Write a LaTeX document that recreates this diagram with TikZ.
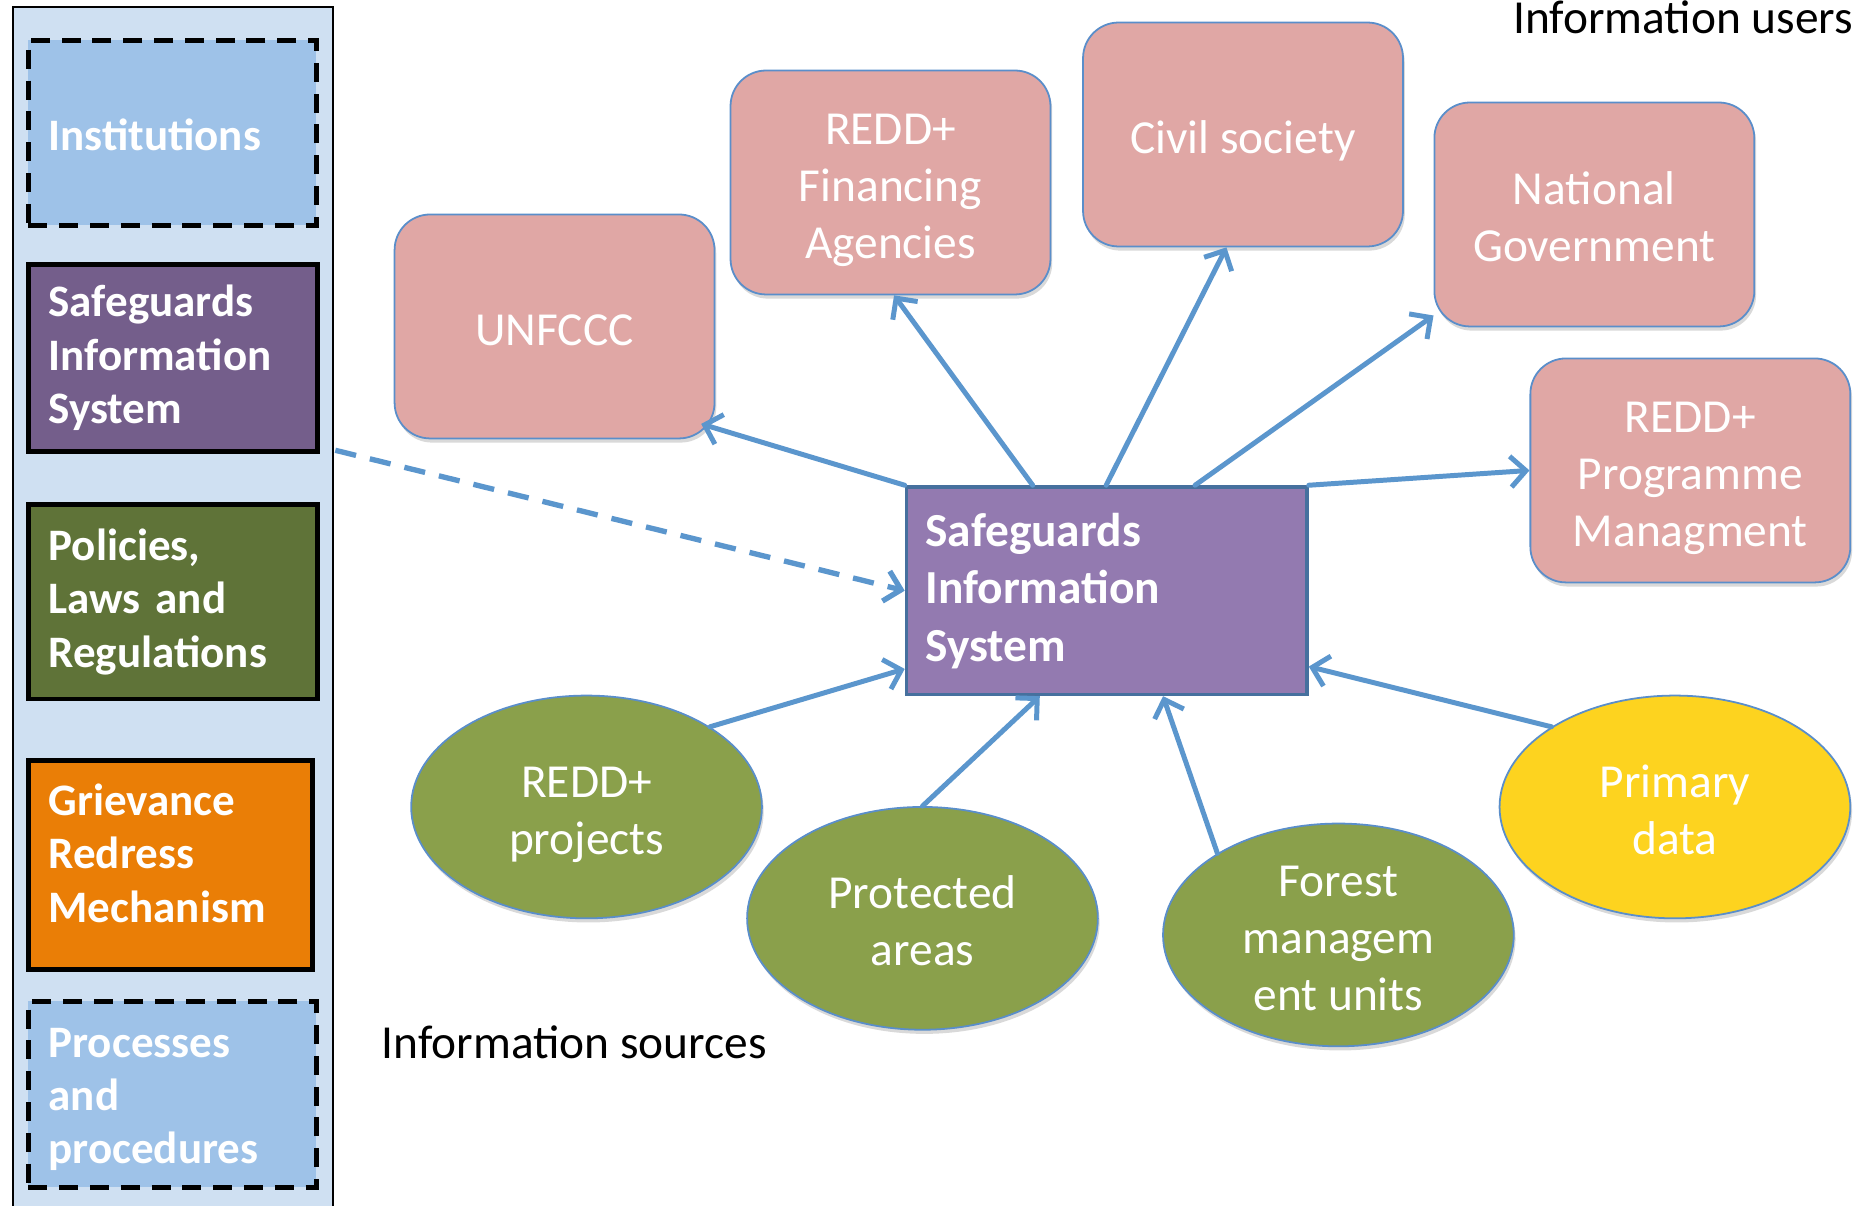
\documentclass[tikz,border=0pt]{standalone}
\usepackage{fontspec}
\setmainfont{Carlito}
\usetikzlibrary{arrows.meta,shapes.geometric,calc,shadows}
\definecolor{panelbg}{RGB}{207,224,242}
\definecolor{instc}{RGB}{158,194,232}
\definecolor{sisdark}{RGB}{116,94,139}
\definecolor{polc}{RGB}{95,115,56}
\definecolor{grievc}{RGB}{234,126,6}
\definecolor{sisfill}{RGB}{147,122,176}
\definecolor{sisborder}{RGB}{70,112,158}
\definecolor{pinkc}{RGB}{224,167,165}
\definecolor{nodeb}{RGB}{90,142,202}
\definecolor{greenc}{RGB}{138,160,75}
\definecolor{yellowc}{RGB}{253,211,31}
\definecolor{arrowc}{RGB}{91,150,205}
\newcommand{\topst}{\rule{0pt}{40pt}}
\newcommand{\botst}{\rule[-8pt]{0pt}{8pt}}
\newcommand{\smallst}{\rule{0pt}{31pt}}
\begin{document}
\begin{tikzpicture}[x=1pt,y=-1pt,
  lbox/.style={anchor=north west, draw=black, line width=4pt, text=white,
    font=\bfseries\fontsize{38}{45}\selectfont, align=left, inner xsep=17pt, inner ysep=0pt},
  dashbox/.style={lbox, dash pattern=on 16pt off 10pt},
  pbox/.style={draw=nodeb, line width=1.5pt, fill=pinkc, rounded corners=30pt,
    minimum width=270pt, minimum height=189pt, text=white,
    font=\fontsize{40}{48}\selectfont, align=center, inner sep=0pt,
    drop shadow={shadow xshift=1.5pt, shadow yshift=-3.5pt, opacity=0.15, fill=black}},
  ebox/.style={ellipse, draw=nodeb, line width=1.5pt, minimum width=296pt, minimum height=188pt,
    inner sep=0pt, text=white, font=\fontsize{40}{48}\selectfont, align=center,
    drop shadow={shadow xshift=1.5pt, shadow yshift=-3.5pt, opacity=0.15, fill=black}},
  sisc/.style={draw=sisborder, line width=3pt, fill=sisfill, minimum height=175pt,
    text width=306pt, inner xsep=16pt, inner ysep=0pt, align=left,
    font=\bfseries\fontsize{40}{48.5}\selectfont, text=white},
  arr/.style={draw=arrowc, line width=4.2pt, line cap=round,
    -{Straight Barb[length=13pt,width=26pt]}},
  darr/.style={arr, line width=4.5pt, line cap=butt, dash pattern=on 18pt off 12pt},
  lbl/.style={font=\fontsize{40}{48}\selectfont, text=black, inner sep=0pt}
]
\useasboundingbox (0,0) rectangle (1568,1017);
\fill[white] (0,0) rectangle (1568,1017);

% left panel
\node[anchor=north west, draw=black, line width=1.5pt, fill=panelbg,
  minimum width=270pt, minimum height=1040pt, inner sep=0pt] (panel) at (10,5) {};

\node[dashbox, fill=instc, text width=209pt, minimum height=156pt,
  execute at begin node={\rule{0pt}{30pt}}] (inst) at (22,32) {Institutions};
\node[lbox, fill=sisdark, text width=210pt, minimum height=158pt] (sisl) at (22,221) {Safeguards\\Information\\System};
\node[lbox, fill=polc, text width=210pt, minimum height=164pt,
  execute at end node={\rule[-4pt]{0pt}{4pt}}] (pol) at (22,424) {Policies,\\Laws and\\Regulations};
\node[lbox, fill=grievc, text width=206pt, minimum height=176pt,
  execute at end node={\rule[-20pt]{0pt}{20pt}}] (griev) at (22,640) {Grievance\\Redress\\Mechanism};
\node[dashbox, fill=instc, text width=209pt, minimum height=157pt,
  execute at begin node={\rule{0pt}{33pt}}] (proc) at (22,843) {Processes\\and\\procedures};

% central node
\node[sisc] (sis) at (934,498.5) {Safeguards\\Information\\System};

% information users
\node[pbox] (unf) at (468,275.5) {\topst UNFCCC\botst};
\node[pbox] (fin) at (751.5,154) {\topst REDD+\\Financing\\Agencies\botst};
\node[pbox] (civ) at (1049,113.5) {\topst Civil society\botst};
\node[pbox] (nat) at (1345.5,181) {\topst National\\Government\botst};
\node[pbox] (prog) at (1426.5,397) {\topst REDD+\\Programme\\Managment\botst};

% information sources
\node[ebox, fill=greenc] (proj) at (495,681) {\topst REDD+\\projects\botst};
\node[ebox, fill=greenc] (prot) at (778.5,775) {\topst Protected\\areas\botst};
\node[ebox, fill=greenc] (forest) at (1129.5,789) {\smallst Forest\\managem\\ent units};
\node[ebox, fill=yellowc] (prim) at (1413.5,681) {\topst Primary\\data\botst};

% labels
\node[lbl, anchor=base east] (users) at (1564,28) {Information users};
\node[lbl, anchor=base west] (sources) at (322,893) {Information sources};

% connectors: outputs
\draw[arr] (sis.north west) -- ($(unf.south east)+(-12,-13)$);
\draw[arr] ($(sis.north west)+(108,0)$) -- ($(fin.south)+(3,0)$);
\draw[arr] ($(sis.north west)+(170,0)$) -- ($(civ.south)+(-14,0)$);
\draw[arr] ($(sis.north west)+(245,0)$) -- ($(nat.south west)+(0,-10)$);
\draw[arr] (sis.north east) -- (prog.west);

% connectors: inputs
\coordinate (dstart) at (283,380);
\draw[darr] (dstart) -- (sis.west);
\draw[arr] (proj.33) -- ($(sis.south west)+(0,-23)$);
\draw[arr] (prot.north) -- ($(sis.south west)+(114,0)$);
\draw[arr] (forest.146) -- ($(sis.south west)+(218,0)$);
\draw[arr] (prim.147) -- ($(sis.south east)+(0,-25)$);
\end{tikzpicture}
\end{document}
